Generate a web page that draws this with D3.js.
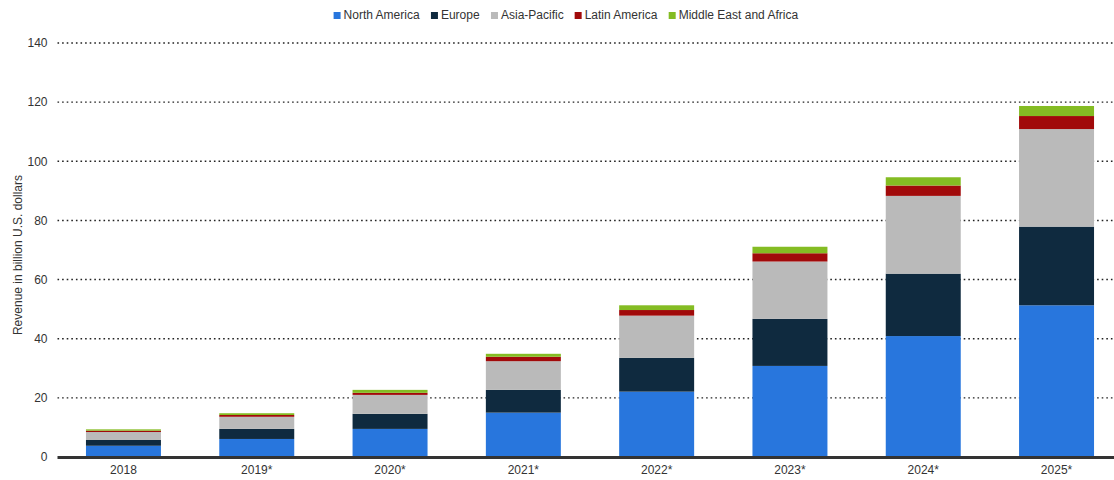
<!DOCTYPE html>
<html>
<head>
<meta charset="utf-8">
<script src="https://cdn.jsdelivr.net/npm/d3@7"></script>
<style>
  html, body { margin: 0; padding: 0; background: #fff; }
  svg { display: block; font-family: Arial, "Liberation Sans", sans-serif; }
</style>
</head>
<body>
<svg id="chart" width="1114" height="480"></svg>
<script>
// Revenue by region, billion U.S. dollars
const years = ["2018", "2019*", "2020*", "2021*", "2022*", "2023*", "2024*", "2025*"];
const regions = ["North America", "Europe", "Asia-Pacific", "Latin America", "Middle East and Africa"];
const northAmerica = [3.8, 6.1, 9.5, 15.0, 22.1, 30.8, 40.9, 51.3];
const europe       = [1.95, 3.4, 5.1, 7.7, 11.4, 15.9, 21.1, 26.6];
const asiaPacific  = [2.7, 4.1, 6.4, 9.7, 14.3, 19.4, 26.3, 33.0];
const latinAmerica = [0.45, 0.6, 0.7, 1.5, 1.9, 2.8, 3.5, 4.4];
const middleEast   = [0.45, 0.6, 1.0, 1.0, 1.6, 2.2, 2.8, 3.4];
const yTicks = [0, 20, 40, 60, 80, 100, 120, 140];
const colors = ["#2876dd", "#0f2a3f", "#bababa", "#a10a0a", "#84bc23"];

const seriesValues = [northAmerica, europe, asiaPacific, latinAmerica, middleEast];
const table = years.map((yr, i) => {
  const row = { year: yr };
  regions.forEach((r, k) => row[r] = seriesValues[k][i]);
  return row;
});

const svg = d3.select("#chart");
const W = 1114;
const plotLeft = 57.5, plotTop = 43, plotBottom = 457;

const x = d3.scaleBand().domain(years).range([59.3, 1120.7])
  .paddingInner(0.4375).paddingOuter(0.2);
const y = d3.scaleLinear().domain([0, 140]).range([plotBottom, plotTop]);

// dotted grid lines
const grid = svg.append("g");
grid.selectAll("line").data(yTicks.filter(t => t > 0)).join("line")
  .attr("x1", plotLeft).attr("x2", W)
  .attr("y1", d => y(d)).attr("y2", d => y(d))
  .attr("stroke", "#222").attr("stroke-width", 1.4)
  .attr("stroke-dasharray", "1.6,3");

// y axis labels
const yAxis = svg.append("g").attr("transform", `translate(${plotLeft - 10},0)`)
  .call(d3.axisLeft(y).tickValues(yTicks).tickSize(0).tickPadding(0));
yAxis.select(".domain").remove();
yAxis.selectAll("text").attr("font-size", 12).attr("fill", "#333")
  .attr("font-family", "Arial, 'Liberation Sans', sans-serif");

// stacked bars
const stack = d3.stack().keys(regions)(table);
svg.append("g").selectAll("g").data(stack).join("g")
  .attr("fill", (d, i) => colors[i])
  .selectAll("rect").data(d => d).join("rect")
  .attr("x", d => x(d.data.year))
  .attr("width", x.bandwidth())
  .attr("y", d => y(d[1]))
  .attr("height", d => y(d[0]) - y(d[1]));

// baseline
svg.append("line").attr("x1", plotLeft).attr("x2", W)
  .attr("y1", plotBottom + 0.5).attr("y2", plotBottom + 0.5)
  .attr("stroke", "#333").attr("stroke-width", 3);

// x axis labels
const xAxis = svg.append("g").attr("transform", `translate(0,${plotBottom + 8})`)
  .call(d3.axisBottom(x).tickSize(0).tickPadding(0));
xAxis.select(".domain").remove();
xAxis.selectAll("text").attr("font-size", 12).attr("fill", "#333")
  .attr("font-family", "Arial, 'Liberation Sans', sans-serif");

// y axis title
svg.append("text")
  .attr("transform", `translate(22,${(plotTop + plotBottom) / 2 + 5}) rotate(-90)`)
  .attr("text-anchor", "middle").attr("font-size", 12).attr("fill", "#333")
  .text("Revenue in billion U.S. dollars");

// legend
const legend = svg.append("g");
const items = legend.selectAll("g").data(regions).join("g");
items.append("rect").attr("width", 7).attr("height", 7).attr("y", -7)
  .attr("fill", (d, i) => colors[i]);
items.append("text").attr("x", 10).attr("y", 0).attr("font-size", 12)
  .attr("fill", "#333").text(d => d);
let cx = 0;
items.each(function () {
  const w = this.getBBox().width;
  d3.select(this).attr("transform", `translate(${cx},0)`);
  cx += w + 11;
});
const legendW = cx - 11;
legend.attr("transform", `translate(${566 - legendW / 2},19)`);
</script>
</body>
</html>
